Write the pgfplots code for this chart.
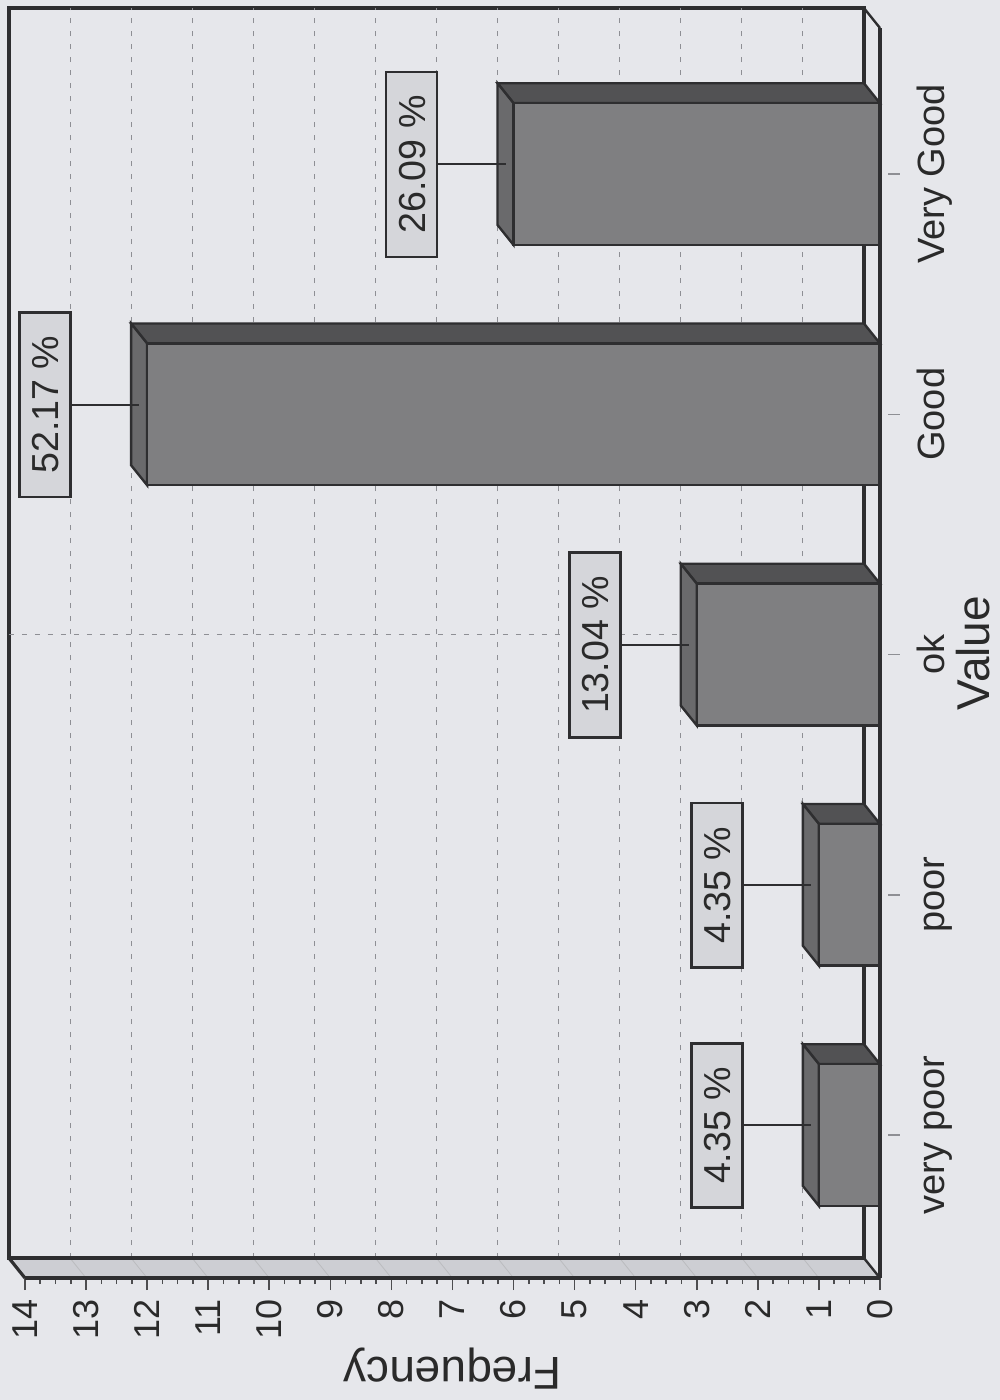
\documentclass[border=0pt]{standalone}
\usepackage{pgfplots}
\pgfplotsset{compat=1.18}
\usepackage{fontspec}
\setmainfont{Liberation Sans}
\definecolor{bg}{HTML}{E6E7EB}
\definecolor{floorc}{HTML}{CDCED3}
\definecolor{frontc}{HTML}{7F7F81}
\definecolor{topc}{HTML}{525254}
\definecolor{sidec}{HTML}{6A6A6C}
\definecolor{edgec}{HTML}{2E2E30}
\definecolor{boxc}{HTML}{D5D6DA}
\definecolor{gridc}{HTML}{8E8F94}
\definecolor{txt}{HTML}{2A2A2A}
\begin{document}
\begin{tikzpicture}
\begin{axis}[
  scale only axis, width=427.5pt, height=625pt,
  x dir=reverse, xmin=0, xmax=14, ymin=-0.595, ymax=4.608,
  clip=false, axis on top, no markers,
  axis x line*=bottom, axis y line*=right,
  axis line style={line width=2.2pt, color=edgec, -},
  xtick={0,...,14}, xticklabels={0,1,2,3,4,5,6,7,8,9,10,11,12,13,14},
  minor x tick num=3,
  tick align=outside,
  major tick length=6pt, minor tick length=3pt,
  x tick style={color=edgec!85, line width=0.8pt},
  ytick={0,1,2,3,4}, yticklabels={very poor,poor,ok,Good,Very Good},
  y tick style={color=gridc, line width=0.8pt, xshift=4pt},
  xticklabel style={rotate=90, anchor=east, inner sep=0pt, font=\fontsize{18}{18}\selectfont, text=txt},
  xticklabel shift=4.5pt,
  yticklabel style={rotate=90, anchor=base, inner sep=0pt, font=\fontsize{19}{19}\selectfont, text=txt},
  yticklabel shift=26.5pt,
  xlabel={Frequency}, ylabel={Value},
  every axis x label/.style={at={(axis description cs:0.5,-0.0632)}, anchor=base, rotate=180, inner sep=0pt, font=\fontsize{23}{23}\selectfont, text=txt},
  every axis y label/.style={at={(axis description cs:1.1287,0.5)}, anchor=base, rotate=90, inner sep=0pt, font=\fontsize{23}{23}\selectfont, text=txt},
]
% page background
\fill[bg] (axis cs:14.409,4.7246) rectangle (axis cs:-1.965,-1.1028);
% back wall
\draw[edgec, line width=1.6pt] (axis cs:14.262,-0.512) rectangle (axis cs:0.262,4.691);
\draw[edgec, line width=1.2pt] (axis cs:0.262,4.691) -- (axis cs:0,4.608);
% grid on the back wall
\pgfplotsinvokeforeach{1,...,13}{
  \draw[gridc, line width=0.5pt, dash pattern=on 2.5pt off 4pt] (axis cs:{#1+0.262},-0.512) -- (axis cs:{#1+0.262},4.691);
}
\draw[gridc, line width=0.5pt, dash pattern=on 2.5pt off 4pt] (axis cs:14.262,2.083) -- (axis cs:0.262,2.083);
% floor
\fill[floorc] (axis cs:14,-0.595) -- (axis cs:0,-0.595) -- (axis cs:0.262,-0.512) -- (axis cs:14.262,-0.512) -- cycle;
\pgfplotsinvokeforeach{0,...,14}{
  \draw[gridc!60, line width=0.4pt] (axis cs:#1,-0.595) -- (axis cs:{#1+0.262},-0.512);
}
\draw[edgec, line width=1.6pt] (axis cs:14.262,-0.512) -- (axis cs:0.262,-0.512);
\draw[edgec, line width=1.6pt] (axis cs:14.262,-0.512) -- (axis cs:14,-0.595);
\draw[edgec, line width=1.2pt] (axis cs:0.262,-0.512) -- (axis cs:0,-0.595);
% 3D faces of the bars: top faces
\addplot[fill=topc, draw=edgec, line width=1.2pt] coordinates {(1,0.295) (0,0.295) (0.262,0.378) (1.262,0.378)} -- cycle;
\addplot[fill=topc, draw=edgec, line width=1.2pt] coordinates {(1,1.295) (0,1.295) (0.262,1.378) (1.262,1.378)} -- cycle;
\addplot[fill=topc, draw=edgec, line width=1.2pt] coordinates {(3,2.295) (0,2.295) (0.262,2.378) (3.262,2.378)} -- cycle;
\addplot[fill=topc, draw=edgec, line width=1.2pt] coordinates {(12,3.295) (0,3.295) (0.262,3.378) (12.262,3.378)} -- cycle;
\addplot[fill=topc, draw=edgec, line width=1.2pt] coordinates {(6,4.295) (0,4.295) (0.262,4.378) (6.262,4.378)} -- cycle;
% side faces
\addplot[fill=sidec, draw=edgec, line width=1.2pt] coordinates {(1,-0.295) (1,0.295) (1.262,0.378) (1.262,-0.212)} -- cycle;
\addplot[fill=sidec, draw=edgec, line width=1.2pt] coordinates {(1,0.705) (1,1.295) (1.262,1.378) (1.262,0.788)} -- cycle;
\addplot[fill=sidec, draw=edgec, line width=1.2pt] coordinates {(3,1.705) (3,2.295) (3.262,2.378) (3.262,1.788)} -- cycle;
\addplot[fill=sidec, draw=edgec, line width=1.2pt] coordinates {(12,2.705) (12,3.295) (12.262,3.378) (12.262,2.788)} -- cycle;
\addplot[fill=sidec, draw=edgec, line width=1.2pt] coordinates {(6,3.705) (6,4.295) (6.262,4.378) (6.262,3.788)} -- cycle;
% front faces
\addplot[xbar, bar width=0.59, fill=frontc, draw=edgec, line width=1.2pt] coordinates {(1,0) (1,1) (3,2) (12,3) (6,4)};
% connectors
\draw[edgec, line width=1pt] (axis cs:2.67,0.04) -- (axis cs:1.131,0.04);
\draw[edgec, line width=1pt] (axis cs:2.67,1.04) -- (axis cs:1.131,1.04);
\draw[edgec, line width=1pt] (axis cs:4.67,2.04) -- (axis cs:3.131,2.04);
\draw[edgec, line width=1pt] (axis cs:13.67,3.04) -- (axis cs:12.131,3.04);
\draw[edgec, line width=1pt] (axis cs:7.67,4.04) -- (axis cs:6.131,4.04);
% percentage labels
\addplot[draw=none, nodes near coords, point meta=explicit symbolic,
  nodes near coords style={rotate=90, anchor=center, draw=edgec, line width=1.3pt, fill=boxc,
    inner xsep=11.75pt, inner ysep=0pt, minimum height=25.5pt, text height=13.5pt, text depth=0pt,
    font=\fontsize{18.8}{18.8}\selectfont, text=txt}]
  coordinates {(2.67,0.04) [4.35 \%] (2.67,1.04) [4.35 \%] (4.67,2.04) [13.04 \%] (13.67,3.04) [52.17 \%] (7.67,4.04) [26.09 \%]};
\end{axis}
\end{tikzpicture}
\end{document}
